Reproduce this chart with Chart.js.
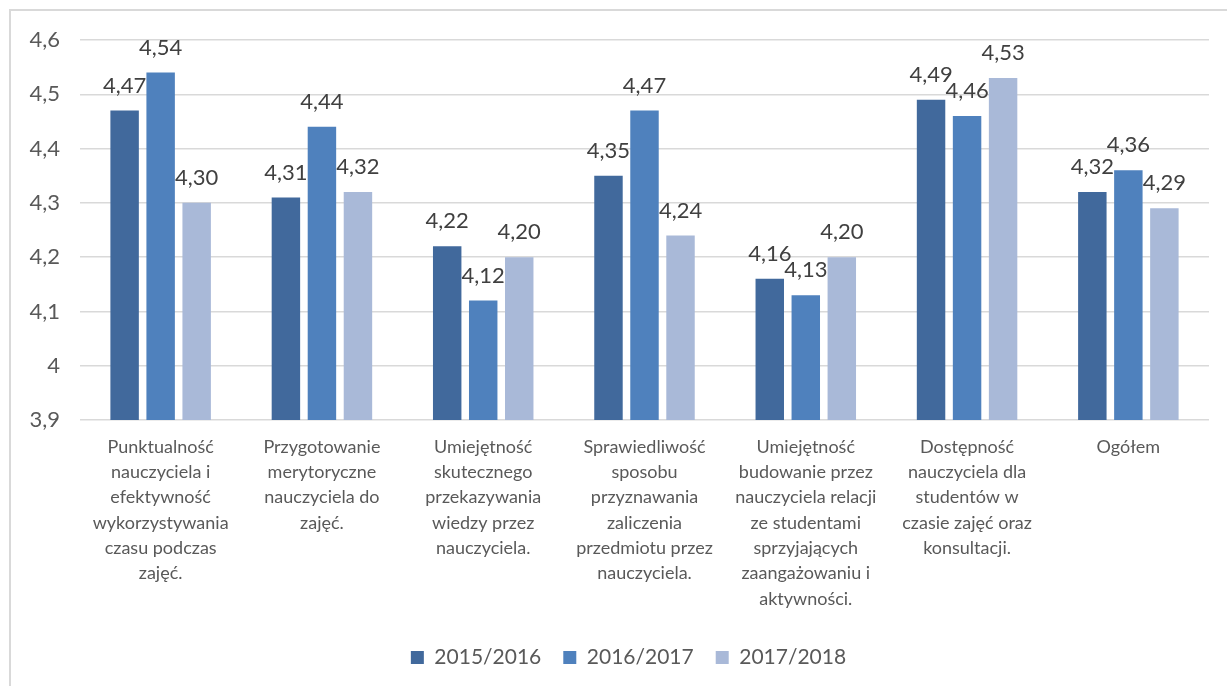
<!DOCTYPE html>
<html lang="pl">
<head>
<meta charset="utf-8">
<title>Ocena nauczycieli</title>
<script src="https://cdn.jsdelivr.net/npm/chart.js@4/dist/chart.umd.min.js"></script>
<style>
    html, body { margin: 0; padding: 0; background: #fff; overflow: hidden; }
    #wrap { position: relative; width: 1227px; height: 686px; }
    #frame {
        position: absolute; left: 9px; top: 9px; width: 1260px; height: 720px;
        border: 2px solid #d9d9d9; box-sizing: border-box;
    }
    #chart { position: absolute; left: 0; top: 0; }
</style>
</head>
<body>
<div id="wrap">
    <div id="frame"></div>
    <canvas id="chart" width="1227" height="686"></canvas>
</div>
<script>
// kategorie oceny (podzielone na linie jak w opisie osi)
const categories = [
    ['Punktualność', 'nauczyciela i', 'efektywność', 'wykorzystywania', 'czasu podczas', 'zajęć.'],
    ['Przygotowanie', 'merytoryczne', 'nauczyciela do', 'zajęć.'],
    ['Umiejętność', 'skutecznego', 'przekazywania', 'wiedzy przez', 'nauczyciela.'],
    ['Sprawiedliwość', 'sposobu', 'przyznawania', 'zaliczenia', 'przedmiotu przez', 'nauczyciela.'],
    ['Umiejętność', 'budowanie przez', 'nauczyciela relacji', 'ze studentami', 'sprzyjających', 'zaangażowaniu i', 'aktywności.'],
    ['Dostępność', 'nauczyciela dla', 'studentów w', 'czasie zajęć oraz', 'konsultacji.'],
    ['Ogółem']
];

const years = ['2015/2016', '2016/2017', '2017/2018'];

const values2015 = [4.47, 4.31, 4.22, 4.35, 4.16, 4.49, 4.32];
const values2016 = [4.54, 4.44, 4.12, 4.47, 4.13, 4.46, 4.36];
const values2017 = [4.30, 4.32, 4.20, 4.24, 4.20, 4.53, 4.29];

const yTicks = { min: 3.9, max: 4.6, step: 0.1 };

const colors = ['#41699c', '#4f81bd', '#a9b9d8'];

Chart.defaults.font.family = 'Lato, "Open Sans", sans-serif';
Chart.defaults.color = '#595959';

const fmt = v => (Math.round(v * 100) / 100).toFixed(2).replace('.', ',');

// etykiety wartości nad słupkami
const valueLabels = {
    id: 'valueLabels',
    afterDatasetsDraw(chart) {
        const ctx = chart.ctx;
        ctx.save();
        ctx.font = '22px Lato, "Open Sans", sans-serif';
        ctx.fillStyle = '#404040';
        ctx.textAlign = 'center';
        ctx.textBaseline = 'middle';
        chart.data.datasets.forEach((ds, i) => {
            const meta = chart.getDatasetMeta(i);
            meta.data.forEach((bar, j) => {
                ctx.fillText(fmt(ds.data[j]), bar.x, bar.y - 25);
            });
        });
        ctx.restore();
    }
};

// legenda wyśrodkowana względem ramki, a nie samego płótna
const legendShift = {
    id: 'legendShift',
    afterLayout(chart) {
        if (!chart.legend) return;
        chart.legend.left += 24;
        chart.legend.right += 24;
    }
};

const datasets = [values2015, values2016, values2017].map((vals, i) => ({
    label: years[i],
    data: vals,
    backgroundColor: colors[i],
    categoryPercentage: 0.67,
    barPercentage: 0.79
}));

new Chart(document.getElementById('chart'), {
    type: 'bar',
    data: { labels: categories, datasets: datasets },
    plugins: [valueLabels, legendShift],
    options: {
        responsive: false,
        animation: false,
        layout: { padding: { left: 0, right: 18, top: 40, bottom: 8 } },
        plugins: {
            tooltip: { enabled: false },
            legend: {
                position: 'bottom',
                labels: {
                    boxWidth: 13,
                    boxHeight: 13,
                    padding: 22,
                    color: '#595959',
                    font: { size: 21 }
                }
            }
        },
        scales: {
            x: {
                grid: { display: false },
                border: { display: false },
                ticks: {
                    autoSkip: false,
                    maxRotation: 0,
                    padding: 6,
                    color: '#595959',
                    font: { size: 18, lineHeight: 1.41 }
                },
                afterFit(scale) { scale.height = 205; }
            },
            y: {
                min: yTicks.min,
                max: yTicks.max,
                grid: { color: '#d9d9d9', drawTicks: false, lineWidth: 1.5 },
                border: { display: false },
                ticks: {
                    stepSize: yTicks.step,
                    padding: 20,
                    color: '#595959',
                    font: { size: 22 },
                    callback: v => String(Math.round(v * 10) / 10).replace('.', ',')
                },
                afterFit(scale) { scale.width = 80; }
            }
        }
    }
});
</script>
</body>
</html>
